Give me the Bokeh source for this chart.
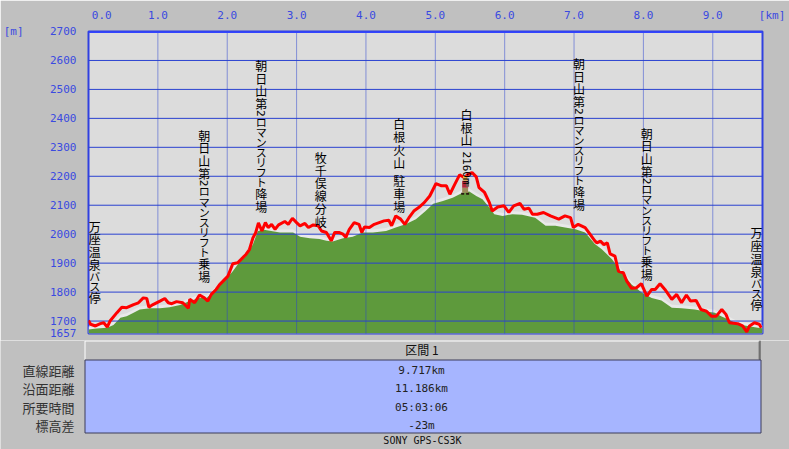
import math
from bokeh.plotting import figure
from bokeh.models import ColumnDataSource, FixedTicker, Range1d, LabelSet, Span
from bokeh.layouts import column
from bokeh.core.properties import value, field
from bokeh.embed import file_html
from bokeh.resources import INLINE

# ---------------- data ----------------
red_km = [0.00, 0.03, 0.10, 0.17, 0.22, 0.27, 0.31, 0.41, 0.48, 0.55, 0.65, 0.72, 0.79, 0.84, 0.87,
          0.93, 1.03, 1.10, 1.15, 1.20, 1.27, 1.36, 1.44, 1.46, 1.53, 1.60, 1.67, 1.72, 1.77, 1.84,
          1.89, 1.94, 2.01, 2.08, 2.15, 2.20, 2.27, 2.32, 2.37, 2.41, 2.45, 2.50, 2.55, 2.59, 2.64,
          2.69, 2.74, 2.83, 2.88, 2.94, 3.00, 3.05, 3.12, 3.17, 3.24, 3.31, 3.36, 3.43, 3.50, 3.55,
          3.61, 3.67, 3.71, 3.76, 3.83, 3.90, 3.94, 3.98, 4.05, 4.12, 4.19, 4.26, 4.33, 4.37, 4.43,
          4.50, 4.56, 4.62, 4.69, 4.76, 4.84, 4.92, 5.01, 5.09, 5.16, 5.21, 5.28, 5.35, 5.42, 5.47,
          5.53, 5.59, 5.63, 5.71, 5.78, 5.82, 5.90, 5.99, 6.06, 6.13, 6.22, 6.28, 6.35, 6.40, 6.47,
          6.56, 6.66, 6.78, 6.87, 6.95, 6.99, 7.06, 7.16, 7.23, 7.30, 7.33, 7.38, 7.43, 7.48, 7.52,
          7.59, 7.64, 7.71, 7.76, 7.83, 7.90, 7.97, 8.05, 8.12, 8.17, 8.24, 8.31, 8.41, 8.48, 8.55,
          8.62, 8.68, 8.76, 8.83, 8.91, 8.98, 9.05, 9.13, 9.19, 9.24, 9.36, 9.43, 9.49, 9.53, 9.60,
          9.67, 9.70]
red_el = [1702, 1689, 1683, 1691, 1694, 1679, 1700, 1729, 1748, 1746, 1757, 1763, 1780, 1778, 1748,
          1757, 1769, 1778, 1763, 1760, 1767, 1763, 1744, 1775, 1763, 1790, 1780, 1769, 1792, 1809,
          1826, 1838, 1855, 1898, 1901, 1913, 1930, 1947, 1987, 2005, 2039, 2011, 2040, 2023, 2034,
          2017, 2032, 2044, 2034, 2055, 2040, 2029, 2037, 2023, 2032, 2029, 2011, 2006, 1977, 2006,
          2006, 2000, 1989, 2017, 2040, 2034, 2006, 2025, 2023, 2034, 2040, 2046, 2048, 2029, 2063,
          2052, 2034, 2057, 2080, 2092, 2109, 2132, 2175, 2167, 2167, 2138, 2172, 2205, 2195, 2207,
          2213, 2198, 2161, 2144, 2109, 2080, 2094, 2098, 2075, 2098, 2106, 2086, 2090, 2069, 2069,
          2075, 2063, 2052, 2063, 2057, 2023, 2034, 2023, 2000, 1977, 1970, 1976, 1964, 1970, 1932,
          1924, 1872, 1867, 1838, 1813, 1815, 1829, 1786, 1809, 1809, 1829, 1809, 1775, 1792, 1763,
          1790, 1769, 1771, 1740, 1734, 1717, 1717, 1740, 1723, 1694, 1691, 1683, 1663, 1683, 1694,
          1689, 1677]

dem_km = [0.00, 0.12, 0.27, 0.36, 0.46, 0.55, 0.65, 0.74, 0.89, 1.03, 1.17, 1.32, 1.46, 1.60, 1.70,
          1.79, 1.89, 1.98, 2.08, 2.17, 2.27, 2.37, 2.44, 2.51, 2.57, 2.76, 2.95, 3.05, 3.19, 3.33,
          3.43, 3.52, 3.67, 3.81, 3.95, 4.10, 4.29, 4.43, 4.57, 4.72, 4.86, 4.97, 5.11, 5.25, 5.40,
          5.49, 5.59, 5.68, 5.78, 5.85, 5.97, 6.11, 6.25, 6.44, 6.59, 6.73, 6.87, 7.02, 7.16, 7.30,
          7.40, 7.55, 7.69, 7.83, 7.98, 8.12, 8.26, 8.41, 8.55, 8.74, 8.88, 9.03, 9.12, 9.22, 9.36,
          9.50, 9.65, 9.717]
dem_el = [1671, 1674, 1677, 1686, 1711, 1717, 1729, 1740, 1744, 1744, 1748, 1755, 1769, 1780, 1780,
          1798, 1821, 1844, 1872, 1901, 1924, 1964, 2010, 2016, 2014, 2006, 2006, 1991, 1986, 1983,
          1977, 1975, 1986, 1991, 2006, 2006, 2011, 2023, 2034, 2052, 2080, 2105, 2115, 2126, 2144,
          2147, 2132, 2121, 2092, 2069, 2063, 2069, 2067, 2057, 2029, 2029, 2023, 2017, 2006, 1966,
          1948, 1913, 1867, 1826, 1798, 1780, 1771, 1746, 1744, 1740, 1734, 1729, 1717, 1706, 1689,
          1683, 1677, 1675]

km_ticks = [0, 1, 2, 3, 4, 5, 6, 7, 8, 9]
km_tick_labels = ["0.0", "1.0", "2.0", "3.0", "4.0", "5.0", "6.0", "7.0", "8.0", "9.0"]
km_unit = "[km]"
m_ticks = [1657, 1700, 1800, 1900, 2000, 2100, 2200, 2300, 2400, 2500, 2600, 2700]
m_unit = "[m]"

wp_names = ["万座温泉バス停", "朝日山第2ロマンスリフト乗場", "朝日山第2ロマンスリフト降場",
            "牧千俣線分岐", "白根火山 駐車場", "白根山 2160m", "朝日山第2ロマンスリフト降場",
            "朝日山第2ロマンスリフト乗場", "万座温泉バス停"]
wp_km = [0.09, 1.67, 2.49, 3.35, 4.48, 5.45, 7.07, 8.05, 9.63]
wp_el = [1725, 1798, 2039, 1988, 2040, 2138, 2046, 1805, 1701]

hiker_km = 5.43
hiker_el = 2140

row_labels = ["直線距離", "沿面距離", "所要時間", "標高差"]
row_values = ["9.717km", "11.186km", "05:03:06", "-23m"]
section_title = "区間 1"
footer_text = "SONY GPS-CS3K"

# ---------------- layout constants ----------------
X0, X1 = 0.0, 9.717
Y0, Y1 = 1657, 2700
W = 789
H1, H2 = 340, 109
FL, FT, FW, FH = 85, 31, 677, 302
PXKM = FW / (X1 - X0)
PXM = FH / (Y1 - Y0)
NB = "\u00a0"

BLUE_TXT = "#3A4AE0"
BLUE_GRID = "#2A42D0"
MONO = "DejaVu Sans Mono"
CJK = "Noto Sans CJK JP"

p = figure(width=W, height=H1, x_range=Range1d(X0, X1), y_range=Range1d(Y0, Y1),
           x_axis_location="above", output_backend="svg", toolbar_location=None,
           min_border_left=FL, min_border_right=W - FL - FW, min_border_top=FT,
           min_border_bottom=H1 - FT - FH)
p.frame_align = False
p.background_fill_color = "#DCDCDC"
p.border_fill_color = "#C0C0C0"
p.outline_line_color = "#3040E0"
p.outline_line_width = 2
p.grid.visible = False

# top axis: km ticks, the first label nudged right, unit label at the end
xa = p.xaxis[0]
unit_tick = X1 - 0.005
xa.ticker = FixedTicker(ticks=km_ticks + [unit_tick])
ov = {t: l for t, l in zip(km_ticks, km_tick_labels)}
ov[km_ticks[0]] = NB * 4 + km_tick_labels[0]
ov[unit_tick] = NB * 3 + km_unit
xa.major_label_overrides = ov
# left axis: metre ticks, the unit sits on the top row
ya = p.yaxis[0]
ya.ticker = FixedTicker(ticks=m_ticks)
mov = {t: str(t) for t in m_ticks}
mov[m_ticks[-1]] = m_unit + NB * 4 + str(m_ticks[-1])
ya.major_label_overrides = mov
for ax, so in ((xa, 10), (ya, 12)):
    ax.axis_line_color = None
    ax.major_tick_line_color = None
    ax.minor_tick_line_color = None
    ax.major_tick_out = 0
    ax.major_tick_in = 0
    ax.major_label_standoff = so
    ax.major_label_text_font = MONO
    ax.major_label_text_font_size = "11px"
    ax.major_label_text_color = BLUE_TXT

# terrain: light fringe + green fill
p.varea(x=dem_km, y1=[Y0] * len(dem_km), y2=[e + 3 / PXM for e in dem_el], fill_color="#E9E9E9")
p.varea(x=dem_km, y1=[Y0] * len(dem_km), y2=dem_el, fill_color="#5E9A3C")

# grid lines above the terrain
hg = [t for t in m_ticks if Y0 < t < Y1]
p.segment(x0=[X0] * len(hg), x1=[X1] * len(hg), y0=hg, y1=hg, line_color=BLUE_GRID, line_width=1)
vg = [t for t in km_ticks if X0 < t < X1]
p.segment(x0=vg, x1=vg, y0=[Y0] * len(vg), y1=[Y1] * len(vg), line_color=BLUE_GRID,
          line_width=1, line_dash="1 1")
p.add_layout(Span(location=Y1, dimension="width", line_color="#3344FF", line_width=3))

# GPS track
p.line(red_km, red_el, line_color="#FF0000", line_width=3)

# small hiker icon at the summit
parts = [(-4, -1, -1, 1, "#2a1a10"), (1, 4, -1, 1, "#2a1a10"), (-3, 3, 1, 6, "#9c8a5a"),
         (-3, 3, 6, 13, "#b02838"), (1, 4, 7, 12, "#6a6060"), (-2, 2, 13, 17, "#e0a048"),
         (-2, 2, 16, 18, "#f0c040")]
p.quad(left=[hiker_km + a / PXKM for a, b, c, d, col in parts],
       right=[hiker_km + b / PXKM for a, b, c, d, col in parts],
       bottom=[hiker_el + c / PXM for a, b, c, d, col in parts],
       top=[hiker_el + d / PXM for a, b, c, d, col in parts],
       fill_color=[col for a, b, c, d, col in parts], line_color=None)

# vertical waypoint labels
GAP, KANJI, KANA, ASC, SP = 10, 12.8, 10.1, 6.5, 5.5
cjk = dict(x=[], y=[], text=[], size=[])
asc = dict(x=[], y=[], text=[])
for name, k, e in zip(wp_names, wp_km, wp_el):
    toks = []
    i = 0
    while i < len(name):
        c = name[i]
        if c == " ":
            toks.append(("sp", c, SP)); i += 1
        elif ord(c) < 128:
            j = i
            while j < len(name) and ord(name[j]) < 128 and name[j] != " ":
                j += 1
            toks.append(("asc", name[i:j], ASC * (j - i))); i = j
        elif "\u30a0" <= c <= "\u30ff":
            toks.append(("kana", c, KANA)); i += 1
        else:
            toks.append(("kanji", c, KANJI)); i += 1
    Ht = sum(t[2] for t in toks)
    cum = 0
    for kind, t, h in toks:
        up = GAP + Ht - cum - h / 2
        y = e + up / PXM
        if kind == "asc":
            asc["x"].append(k); asc["y"].append(y); asc["text"].append(t)
        elif kind != "sp":
            cjk["x"].append(k); cjk["y"].append(y); cjk["text"].append(t)
            cjk["size"].append("12px" if kind == "kanji" else "11px")
        cum += h

p.add_layout(LabelSet(x="x", y="y", text="text", source=ColumnDataSource(cjk),
                      text_font=value(CJK), text_font_size=field("size"), text_color="black",
                      text_align="center", text_baseline="middle"))
p.add_layout(LabelSet(x="x", y="y", text="text", source=ColumnDataSource(asc),
                      text_font=value(MONO), text_font_size=value("11px"), text_color="black",
                      angle=-math.pi / 2, text_align="center", text_baseline="middle"))

# ---------------- summary table ----------------
q = figure(width=W, height=H2, x_range=Range1d(0, W), y_range=Range1d(H2, 0),
           x_axis_location=None, y_axis_location=None, output_backend="svg",
           toolbar_location=None, min_border=0)
q.frame_align = False
q.background_fill_color = "#C0C0C0"
q.border_fill_color = "#C0C0C0"
q.outline_line_color = None
q.grid.visible = False

q.quad(left=[84], right=[760], top=[0], bottom=[19.5], fill_color="#C0C0C0", line_color=None)
q.segment(x0=[84.5, 84.5], y0=[0.5, 0.5], x1=[759, 84.5], y1=[0.5, 19], line_color="white")
q.segment(x0=[758.5], y0=[1], x1=[758.5], y1=[19], line_color="#808080")
q.segment(x0=[759.5], y0=[0], x1=[759.5], y1=[19.5], line_color="#404040")
q.quad(left=[84.5], right=[760.5], top=[19.5], bottom=[92.5], fill_color="#A6B5FF",
       line_color="#3C3C5A", line_width=1)

q.text(x=[421.5], y=[9], text=[section_title], text_font=value(CJK), text_font_size="12px",
       text_color="#111111", text_align="center", text_baseline="middle")
row_y = [30 + 18.3 * i for i in range(len(row_labels))]
q.text(x=[74] * len(row_labels), y=row_y, text=row_labels, text_font=value(CJK),
       text_font_size="13px", text_color="#333333", text_align="right", text_baseline="middle")
q.text(x=[421] * len(row_values), y=row_y, text=row_values, text_font=value(MONO),
       text_font_size="11px", text_color="#222222", text_align="center", text_baseline="middle")
q.text(x=[422], y=[100], text=[footer_text], text_font=value(MONO), text_font_size="10px",
       text_color="#111111", text_align="center", text_baseline="middle")

layout = column(p, q, spacing=0)
open("out.html", "w").write(file_html(layout, INLINE))
